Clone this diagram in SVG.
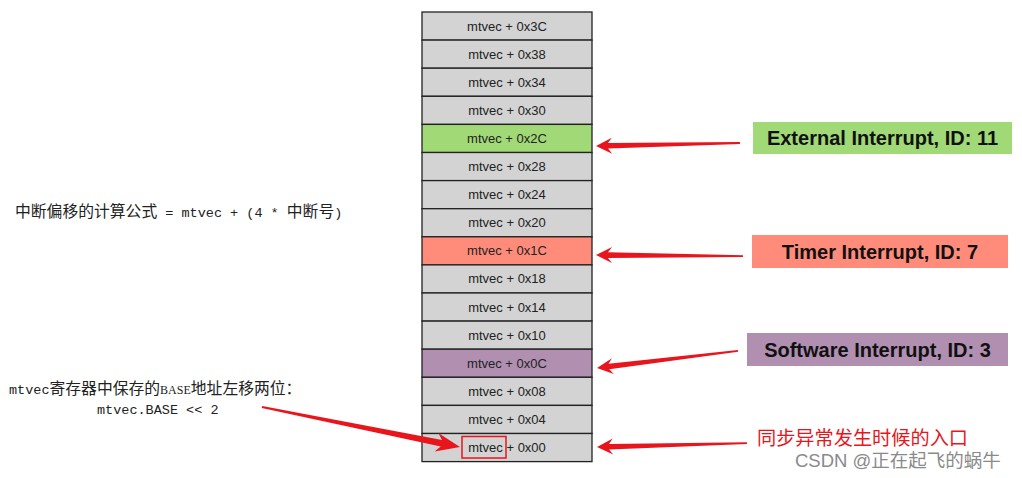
<svg xmlns="http://www.w3.org/2000/svg" width="1022" height="478" viewBox="0 0 1022 478">
<style>
.cell{fill:#d3d3d3;stroke:#222;stroke-width:1.3}
.ct{font-family:"Liberation Sans",Arial,sans-serif;font-size:13px;fill:#222;text-anchor:middle}
.lbl{font-family:"Liberation Sans",Arial,sans-serif;font-size:20px;font-weight:bold;fill:#111;text-anchor:middle}
.cjk{font-family:"Noto Sans CJK SC",sans-serif;font-size:15.8px;fill:#222}
.lat{font-family:"Liberation Mono",monospace;font-size:13.5px}
.arr{fill:#e8161c}
</style>
<rect width="1022" height="478" fill="#fff"/>
<g id="stack">
<rect class="cell" x="422" y="12" width="170" height="28.1"/><text class="ct" x="507" y="30.5">mtvec + 0x3C</text>
<rect class="cell" x="422" y="40.1" width="170" height="28.1"/><text class="ct" x="507" y="58.6">mtvec + 0x38</text>
<rect class="cell" x="422" y="68.2" width="170" height="28.1"/><text class="ct" x="507" y="86.7">mtvec + 0x34</text>
<rect class="cell" x="422" y="96.3" width="170" height="28.1"/><text class="ct" x="507" y="114.8">mtvec + 0x30</text>
<rect class="cell" x="422" y="124.4" width="170" height="28.1" style="fill:#a2d977"/><text class="ct" x="507" y="142.9">mtvec + 0x2C</text>
<rect class="cell" x="422" y="152.5" width="170" height="28.1"/><text class="ct" x="507" y="171">mtvec + 0x28</text>
<rect class="cell" x="422" y="180.6" width="170" height="28.1"/><text class="ct" x="507" y="199.1">mtvec + 0x24</text>
<rect class="cell" x="422" y="208.7" width="170" height="28.1"/><text class="ct" x="507" y="227.2">mtvec + 0x20</text>
<rect class="cell" x="422" y="236.8" width="170" height="28.1" style="fill:#ff8c7a"/><text class="ct" x="507" y="255.3">mtvec + 0x1C</text>
<rect class="cell" x="422" y="264.9" width="170" height="28.1"/><text class="ct" x="507" y="283.4">mtvec + 0x18</text>
<rect class="cell" x="422" y="293" width="170" height="28.1"/><text class="ct" x="507" y="311.5">mtvec + 0x14</text>
<rect class="cell" x="422" y="321.1" width="170" height="28.1"/><text class="ct" x="507" y="339.6">mtvec + 0x10</text>
<rect class="cell" x="422" y="349.2" width="170" height="28.1" style="fill:#b08fb1"/><text class="ct" x="507" y="367.7">mtvec + 0x0C</text>
<rect class="cell" x="422" y="377.3" width="170" height="28.1"/><text class="ct" x="507" y="395.8">mtvec + 0x08</text>
<rect class="cell" x="422" y="405.4" width="170" height="28.1"/><text class="ct" x="507" y="423.9">mtvec + 0x04</text>
<rect class="cell" x="422" y="433.5" width="170" height="28.1"/><text class="ct" x="507" y="452">mtvec + 0x00</text>
<rect x="462" y="436.5" width="44" height="21.5" fill="none" stroke="#e8161c" stroke-width="1.5"/>
</g>
<g id="external"><rect x="753" y="122" width="259" height="32" fill="#a2d977"/><text class="lbl" x="882.5" y="145">External Interrupt, ID: 11</text></g>
<g id="timer"><rect x="752" y="235" width="256" height="33" fill="#ff8c7a"/><text class="lbl" x="880" y="258.5">Timer Interrupt, ID: 7</text></g>
<g id="software"><rect x="747" y="333" width="261" height="33" fill="#b08fb1"/><text class="lbl" x="877.5" y="356.5">Software Interrupt, ID: 3</text></g>
<g id="sync"><text x="757" y="444.5" font-family="'Noto Sans CJK SC',sans-serif" font-size="19.2px" fill="#e8161c">同步异常发生时候的入口</text></g>
<g id="formula"><text class="cjk" x="15" y="217">中断偏移的计算公式<tspan class="lat"> = mtvec + (4 * </tspan>中断号<tspan class="lat">)</tspan></text></g>
<g id="base"><text class="cjk" x="9" y="394"><tspan class="lat">mtvec</tspan>寄存器中保存的<tspan font-family="Liberation Serif,serif" font-size="12px">BASE</tspan>地址左移两位：</text><text class="cjk" x="97" y="414"><tspan class="lat" font-size="13.3px">mtvec.BASE &lt;&lt; 2</tspan></text></g>
<g id="connectors" class="arr">
<path transform="translate(596,146) rotate(-1.2)" d="M0,0 L16,-8 L12,-2.8 L144,-0.9 L144,0.9 L12,2.8 L16,8 Z"/>
<path transform="translate(596,255) rotate(0.4)" d="M0,0 L16,-8 L12,-2.8 L147,-0.9 L147,0.9 L12,2.8 L16,8 Z"/>
<path transform="translate(597,368) rotate(-6.9)" d="M0,0 L16,-8 L12,-2.8 L142,-0.9 L142,0.9 L12,2.8 L16,8 Z"/>
<path transform="translate(597,447) rotate(-1.5)" d="M0,0 L16,-8 L12,-2.8 L150,-0.9 L150,0.9 L12,2.8 L16,8 Z"/>
<path transform="translate(460,447) rotate(191.4)" d="M0,0 L24,-9.5 L19,-3.2 L202,-1 L202,1 L19,3.2 L24,9.5 Z"/>
</g>
<text x="795" y="466.5" font-family="'Liberation Sans','Noto Sans CJK SC',sans-serif" font-size="18.5px" fill="#8a8a8a">CSDN @正在起飞的蜗牛</text>
</svg>
